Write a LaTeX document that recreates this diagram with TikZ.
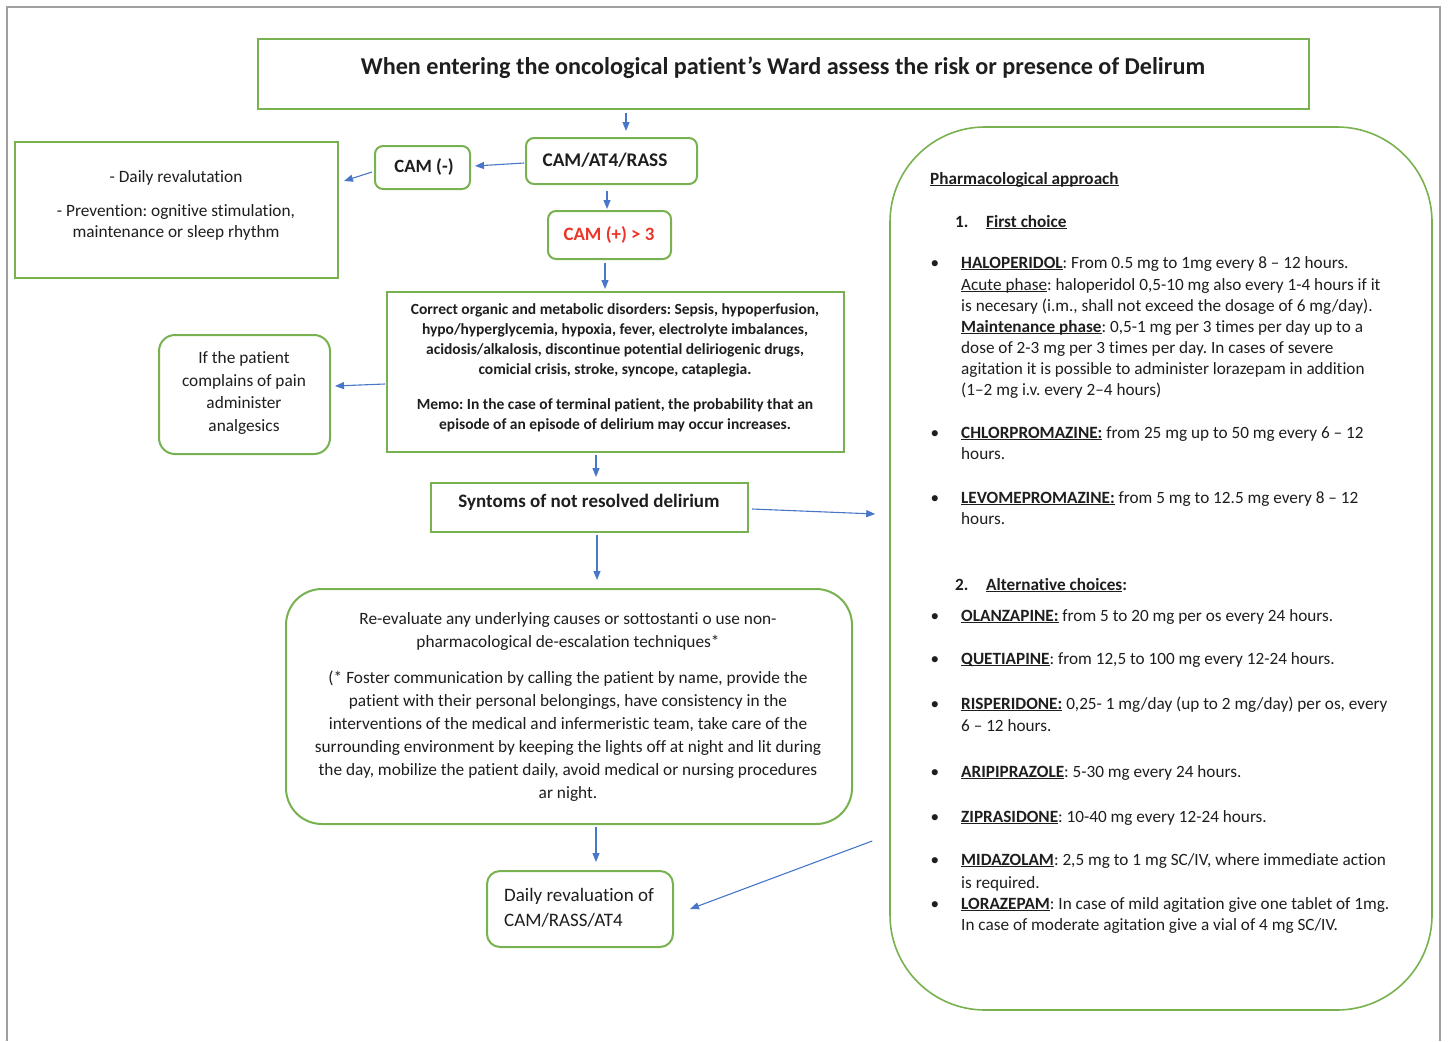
\documentclass[tikz,border=0pt]{standalone}
\usepackage{fontspec}
\setmainfont{Carlito}[Ligatures=NoCommon]
\frenchspacing
\usetikzlibrary{arrows.meta,calc}

\definecolor{boxgreen}{RGB}{120,178,80}
\definecolor{arrowblue}{RGB}{72,118,200}
\definecolor{alertred}{RGB}{236,52,40}
\definecolor{inkgray}{RGB}{30,30,30}
\definecolor{framegray}{RGB}{160,160,160}

% underline at a fixed distance below the baseline
\newcommand\ulx[1]{\underline{\smash{#1}}}

\tikzset{
  gbox/.style={draw=boxgreen, line width=2pt, inner sep=0pt, fill=white},
  rbox/.style={gbox, rounded corners=8pt},
  flow/.style={draw=arrowblue, line width=1.1pt,
    -{Triangle[length=9pt,width=7pt]}},
  txt/.style={inner sep=0pt, text=inkgray},
  ptxt/.style={txt, anchor=base west, font=\fontsize{17.2}{21}\selectfont},
  pbul/.style={txt, anchor=base, font=\fontsize{17.2}{21}\selectfont},
  phead/.style={ptxt, font=\fontsize{17.2}{21}\selectfont\bfseries},
}

\begin{document}
\begin{tikzpicture}[x=1pt,y=-1pt]
\useasboundingbox (0,0) rectangle (1450,1041);
\fill[white] (0,0) rectangle (1450,1041);
% page frame
\draw[framegray, line width=2.5pt] (7,1041) -- (7,7) -- (1440,7) -- (1440,1041);

% ---- boxes ----
\node[gbox, minimum width=1051pt, minimum height=70pt] (title) at (783.5,74) {};
\node[rbox, minimum width=171pt, minimum height=46pt] (cam4) at (611.5,161) {};
\node[rbox, minimum width=95pt, minimum height=43pt] (camneg) at (422.5,167.5) {};
\node[gbox, minimum width=323pt, minimum height=136pt] (daily) at (176.5,210) {};
\node[rbox, minimum width=123pt, minimum height=48pt] (campos) at (609.5,235) {};
\node[gbox, minimum width=457pt, minimum height=160pt] (correct) at (615.5,372) {};
\node[gbox, rounded corners=16pt, minimum width=171pt, minimum height=119pt] (pain) at (244.5,394.5) {};
\node[gbox, minimum width=317pt, minimum height=49pt] (syn) at (589.5,507.5) {};
\node[gbox, rounded corners=36pt, minimum width=566pt, minimum height=235pt] (reeval) at (569,706.5) {};
\node[gbox, rounded corners=13pt, minimum width=186pt, minimum height=76pt] (dreval) at (580,909) {};
\node[gbox, line width=1.6pt, rounded corners=95pt, minimum width=542pt, minimum height=883pt] (panel) at (1161,568.5) {};

% ---- box texts ----
\node[txt, font=\fontsize{24.2}{28}\selectfont\bfseries] (titletxt) at (783,68)
  {When entering the oncological patient’s Ward assess the risk or presence of Delirum};
\node[txt, font=\fontsize{19.3}{22}\selectfont\bfseries] (cam4txt) at (605,160) {CAM/AT4/RASS};
\node[txt, font=\fontsize{18.7}{22}\selectfont\bfseries] (camnegtxt) at (424,167) {CAM (-)};
\node[txt, text=alertred, font=\fontsize{18.9}{22}\selectfont\bfseries] (campostxt) at (609,235) {CAM (+) > 3};
\node[txt, align=center, font=\fontsize{17.3}{21}\selectfont] (dailytxt) at (176,205)
  {- Daily revalutation\\[13pt]- Prevention: ognitive stimulation,\\maintenance or sleep rhythm};
\node[txt, align=center, font=\fontsize{15.5}{20}\selectfont\bfseries] (correcttxt) at (615,368)
  {Correct organic and metabolic disorders: Sepsis, hypoperfusion,\\
   hypo/hyperglycemia, hypoxia, fever, electrolyte imbalances,\\
   acidosis/alkalosis, discontinue potential deliriogenic drugs,\\
   comicial crisis, stroke, syncope, cataplegia.\\[15pt]
   Memo: In the case of terminal patient, the probability that an\\
   episode of an episode of delirium may occur increases.};
\node[txt, align=center, font=\fontsize{17.3}{22.7}\selectfont] (paintxt) at (244,393)
  {If the patient\\complains of pain\\administer\\analgesics};
\node[txt, font=\fontsize{19}{22}\selectfont\bfseries] (syntxt) at (589,502) {Syntoms of not resolved delirium};
\node[txt, align=center, font=\fontsize{17.3}{23}\selectfont] (reevaltxt) at (568,707)
  {Re-evaluate any underlying causes or sottostanti o use non-\\
   pharmacological de-escalation techniques*\\[13pt]
   (* Foster communication by calling the patient by name, provide the\\
   patient with their personal belongings, have consistency in the\\
   interventions of the medical and infermeristic team, take care of the\\
   surrounding environment by keeping the lights off at night and lit during\\
   the day, mobilize the patient daily, avoid medical or nursing procedures\\
   ar night.};
\node[txt, align=left, anchor=west, font=\fontsize{19}{25}\selectfont] (drevaltxt) at (504,907.5)
  {Daily revaluation of\\CAM/RASS/AT4};

% ---- pharmacological panel ----
\node[phead] (ph0) at (930,184) {\ulx{Pharmacological approach}};
\node[phead] (ph1n) at (955,227) {1.};
\node[phead] (ph1) at (986,227) {\ulx{First choice}};

\node[pbul] (b1) at (935,268) {•};
\node[ptxt] (h1) at (961,268) {\ulx{\textbf{HALOPERIDOL}}: From 0.5 mg to 1mg every 8 – 12 hours.};
\node[ptxt] (h2) at (961,290) {\ulx{Acute phase}: haloperidol 0,5-10 mg also every 1-4 hours if it};
\node[ptxt] (h3) at (961,311) {is necesary (i.m., shall not exceed the dosage of 6 mg/day).};
\node[ptxt] (h4) at (961,332) {\ulx{\textbf{Maintenance phase}}: 0,5-1 mg per 3 times per day up to a};
\node[ptxt] (h5) at (961,353) {dose of 2-3 mg per 3 times per day. In cases of severe};
\node[ptxt] (h6) at (961,374) {agitation it is possible to administer lorazepam in addition};
\node[ptxt] (h7) at (961,395) {(1–2 mg i.v. every 2–4 hours)};

\node[pbul] (b2) at (935,438) {•};
\node[ptxt] (c1) at (961,438) {\ulx{\textbf{CHLORPROMAZINE:}} from 25 mg up to 50 mg every 6 – 12};
\node[ptxt] (c2) at (961,459) {hours.};

\node[pbul] (b3) at (935,503) {•};
\node[ptxt] (l1) at (961,503) {\ulx{\textbf{LEVOMEPROMAZINE:}} from 5 mg to 12.5 mg every 8 – 12};
\node[ptxt] (l2) at (961,524) {hours.};

\node[phead] (ph2n) at (955,590) {2.};
\node[phead] (ph2) at (986,590) {\ulx{Alternative choices}:};

\node[pbul] (b4) at (935,621) {•};
\node[ptxt] (o1) at (961,621) {\ulx{\textbf{OLANZAPINE:}} from 5 to 20 mg per os every 24 hours.};
\node[pbul] (b5) at (935,664) {•};
\node[ptxt] (q1) at (961,664) {\ulx{\textbf{QUETIAPINE}}: from 12,5 to 100 mg every 12-24 hours.};
\node[pbul] (b6) at (935,709) {•};
\node[ptxt] (r1) at (961,709) {\ulx{\textbf{RISPERIDONE:}} 0,25- 1 mg/day (up to 2 mg/day) per os, every};
\node[ptxt] (r2) at (961,731) {6 – 12 hours.};
\node[pbul] (b7) at (935,777) {•};
\node[ptxt] (a1) at (961,777) {\ulx{\textbf{ARIPIPRAZOLE}}: 5-30 mg every 24 hours.};
\node[pbul] (b8) at (935,822) {•};
\node[ptxt] (z1) at (961,822) {\ulx{\textbf{ZIPRASIDONE}}: 10-40 mg every 12-24 hours.};
\node[pbul] (b9) at (935,865) {•};
\node[ptxt] (m1) at (961,865) {\ulx{\textbf{MIDAZOLAM}}: 2,5 mg to 1 mg SC/IV, where immediate action};
\node[ptxt] (m2) at (961,888) {is required.};
\node[pbul] (b10) at (935,909) {•};
\node[ptxt] (z2) at (961,909) {\ulx{\textbf{LORAZEPAM}}: In case of mild agitation give one tablet of 1mg.};
\node[ptxt] (z3) at (961,930) {In case of moderate agitation give a vial of 4 mg SC/IV.};

% ---- connectors ----
\draw[flow] ([shift={(-157.5,3)}]title.south) -- ([shift={(14.5,-6)}]cam4.north);
\draw[flow] ([shift={(-1,2)}]cam4.west) -- ([shift={(4,-1.5)}]camneg.east);
\draw[flow] ([shift={(-2,4.5)}]camneg.west) -- ([shift={(5,-29)}]daily.east);
\draw[flow] ([shift={(-4.5,6)}]cam4.south) -- ([shift={(-2.5,-1)}]campos.north);
\draw[flow] ([shift={(-4.5,3)}]campos.south) -- ([shift={(-10.5,-2)}]correct.north);
\draw[flow] ([shift={(-1,12)}]correct.west) -- ([shift={(4,-8.5)}]pain.east);
\draw[flow] ([shift={(-19.5,2)}]correct.south) -- ([shift={(6.5,-5)}]syn.north);
\draw[flow] ([shift={(3,1.5)}]syn.east) -- ([shift={(-14,-54.5)}]panel.west);
\draw[flow] ([shift={(7.5,2)}]syn.south) -- ([shift={(28,-8)}]reeval.north);
\draw[flow] ([shift={(27,2)}]reeval.south) -- ([shift={(16,-8)}]dreval.north);
\draw[flow] ([shift={(-17,272.5)}]panel.west) -- ([shift={(16,0)}]dreval.east);
\end{tikzpicture}
\end{document}
